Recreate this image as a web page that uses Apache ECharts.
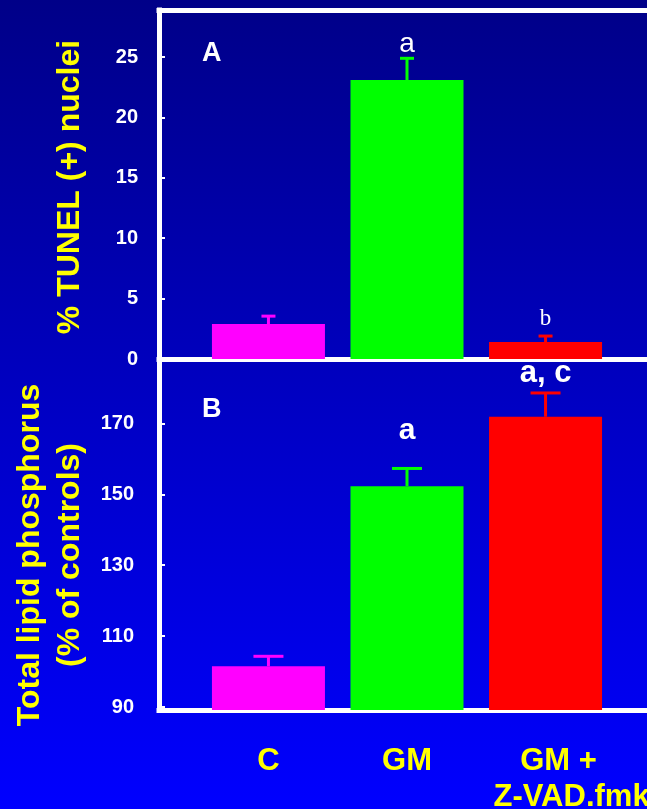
<!DOCTYPE html>
<html>
<head>
<meta charset="utf-8">
<script src="https://cdn.jsdelivr.net/npm/echarts@6/dist/echarts.min.js"></script>
<style>
  html, body { margin: 0; padding: 0; background: #0000c0; }
  #chart { width: 647px; height: 809px; }
</style>
</head>
<body>
<div id="chart"></div>
<script>
// ---------------- data ----------------
const categories = ['C', 'GM', 'GM +\nZ-VAD.fmk'];
const barColors = ['#FF00FF', '#00FF00', '#FF0000'];

// Panel A: % TUNEL (+) nuclei
const tunelMean = [2.9, 23.1, 1.4];
const tunelErr = [0.65, 1.8, 0.5];
const tunelTicks = [0, 5, 10, 15, 20, 25];
const tunelLetters = ['', 'a', 'b'];
const tunelLetterY = [null, 24.9, 2.4];

// Panel B: Total lipid phosphorus (% of controls)
const lipidMean = [101.5, 152.3, 171.9];
const lipidErr = [2.8, 5.0, 6.7];
const lipidTicks = [90, 110, 130, 150, 170];
const lipidLetters = ['', 'a', 'a, c'];
const lipidLetterY = [null, 163.6, 179.7];

// ---------------- chart ----------------
const SANS = 'Liberation Sans';
const SERIF = 'Liberation Serif';
const xMin = -0.79, xMax = 2.79;
const catIdx = categories.map((c, i) => i);

function errSeries(grid, means, errs, capHalf) {
  return {
    type: 'custom',
    xAxisIndex: grid === 0 ? 0 : 2,
    yAxisIndex: grid,
    z: 5,
    clip: false,
    data: means.map((m, i) => [i, m, errs[i]]),
    renderItem: function (params, api) {
      const x = api.value(0), m = api.value(1), e = api.value(2);
      const p0 = api.coord([x, m]);
      const p1 = api.coord([x, m + e]);
      const col = barColors[params.dataIndex];
      return {
        type: 'group',
        children: [
          { type: 'line', shape: { x1: p0[0], y1: p0[1], x2: p1[0], y2: p1[1] }, style: { stroke: col, lineWidth: 3 } },
          { type: 'line', shape: { x1: p1[0] - capHalf, y1: p1[1], x2: p1[0] + capHalf, y2: p1[1] }, style: { stroke: col, lineWidth: 3 } }
        ]
      };
    }
  };
}

function letterSeries(grid, letters, ys, fonts) {
  const data = [];
  letters.forEach((t, i) => { if (t) data.push([i, ys[i], i]); });
  return {
    type: 'custom',
    xAxisIndex: grid === 0 ? 0 : 2,
    yAxisIndex: grid,
    z: 6,
    clip: false,
    data: data,
    renderItem: function (params, api) {
      const i = api.value(2);
      const p = api.coord([api.value(0), api.value(1)]);
      return {
        type: 'text',
        x: p[0], y: p[1],
        style: {
          text: letters[i],
          font: fonts[i],
          fill: '#FFFFFF',
          textAlign: 'center',
          textVerticalAlign: 'bottom'
        }
      };
    }
  };
}

const frameLine = { show: true, onZero: false, lineStyle: { color: '#FFFFFF', width: 5, cap: 'square' } };

const chart = echarts.init(document.getElementById('chart'));
chart.setOption({
  animation: false,
  backgroundColor: new echarts.graphic.LinearGradient(0, 0, 0, 1, [
    { offset: 0, color: '#000088' },
    { offset: 1, color: '#0000FF' }
  ]),
  title: [
    { text: 'A', left: 202, top: 40, padding: 0, textStyle: { color: '#FFFFFF', fontSize: 27, fontWeight: 'bold', fontFamily: SANS } },
    { text: 'B', left: 202, top: 396, padding: 0, textStyle: { color: '#FFFFFF', fontSize: 27, fontWeight: 'bold', fontFamily: SANS } }
  ],
  grid: [
    { left: 159, width: 496, top: 10, height: 349, outerBoundsMode: 'none', containLabel: false },
    { left: 159, width: 496, top: 360, height: 350, outerBoundsMode: 'none', containLabel: false }
  ],
  xAxis: [
    { type: 'value', gridIndex: 0, min: xMin, max: xMax, position: 'bottom',
      axisLine: frameLine, axisTick: { show: false }, axisLabel: { show: false }, splitLine: { show: false } },
    { type: 'value', gridIndex: 0, min: xMin, max: xMax, position: 'top',
      axisLine: frameLine, axisTick: { show: false }, axisLabel: { show: false }, splitLine: { show: false } },
    { type: 'value', gridIndex: 1, min: xMin, max: xMax, position: 'bottom',
      axisLine: frameLine, axisTick: { show: false }, splitLine: { show: false },
      axisLabel: {
        customValues: catIdx,
        margin: 33,
        color: '#FFFF00',
        fontFamily: SANS,
        fontWeight: 'bold',
        fontSize: 31,
        lineHeight: 36,
        formatter: function (v) {
          const i = Math.round(v);
          const lines = categories[i].split('\n');
          if (lines.length === 1) return '{s|' + lines[0] + '}';
          return lines.map((l, k) => '{p' + k + '|' + l + '}').join('\n');
        },
        rich: {
          s: { color: '#FFFF00', fontFamily: SANS, fontWeight: 'bold', fontSize: 31, lineHeight: 36 },
          p0: { color: '#FFFF00', fontFamily: SANS, fontWeight: 'bold', fontSize: 31, lineHeight: 36, padding: [0, 0, 0, 26] },
          p1: { color: '#FFFF00', fontFamily: SANS, fontWeight: 'bold', fontSize: 31, lineHeight: 36, padding: [0, 0, 0, 52] }
        }
      } }
  ],
  yAxis: [
    { type: 'value', gridIndex: 0, min: 0, max: 28.9, interval: 5,
      axisLine: frameLine,
      axisTick: { show: true, inside: true, length: 6, customValues: tunelTicks, lineStyle: { color: '#FFFFFF', width: 2 } },
      minorTick: { show: true, splitNumber: 2, length: 3, lineStyle: { color: '#FFFFFF', width: 2 } },
      axisLabel: { customValues: tunelTicks, margin: 21, color: '#FFFFFF', fontFamily: SANS, fontWeight: 'bold', fontSize: 20 },
      splitLine: { show: false },
      name: '% TUNEL (+) nuclei',
      nameLocation: 'middle',
      nameRotate: 90,
      nameGap: 73,
      nameTextStyle: { color: '#FFFF00', fontFamily: SANS, fontWeight: 'bold', fontSize: 32, padding: [0, 5, 0, 0] }
    },
    { type: 'value', gridIndex: 1, min: 89.15, max: 187.9,
      axisLine: frameLine,
      axisTick: { show: true, inside: true, length: 6, customValues: lipidTicks, lineStyle: { color: '#FFFFFF', width: 2 } },
      axisLabel: { customValues: lipidTicks, margin: 25, color: '#FFFFFF', fontFamily: SANS, fontWeight: 'bold', fontSize: 20 },
      splitLine: { show: false },
      name: 'Total lipid phosphorus\n(% of controls)',
      nameLocation: 'middle',
      nameRotate: 90,
      nameGap: 67,
      nameTextStyle: { color: '#FFFF00', fontFamily: SANS, fontWeight: 'bold', fontSize: 32, lineHeight: 40, padding: [0, 40, 0, 0] }
    }
  ],
  series: [
    { type: 'bar', xAxisIndex: 0, yAxisIndex: 0, barWidth: 113, z: 3,
      data: tunelMean.map((m, i) => [i, m]),
      itemStyle: { color: (p) => barColors[p.dataIndex] } },
    { type: 'bar', xAxisIndex: 2, yAxisIndex: 1, barWidth: 113, z: 3,
      data: lipidMean.map((m, i) => [i, m]),
      itemStyle: { color: (p) => barColors[p.dataIndex] } },
    errSeries(0, tunelMean, tunelErr, 7),
    errSeries(1, lipidMean, lipidErr, 15),
    letterSeries(0, tunelLetters, tunelLetterY, ['', '28px ' + SANS, '23px ' + SERIF]),
    letterSeries(1, lipidLetters, lipidLetterY, ['', 'bold 30px ' + SANS, 'bold 31px ' + SANS])
  ]
});
</script>
</body>
</html>
